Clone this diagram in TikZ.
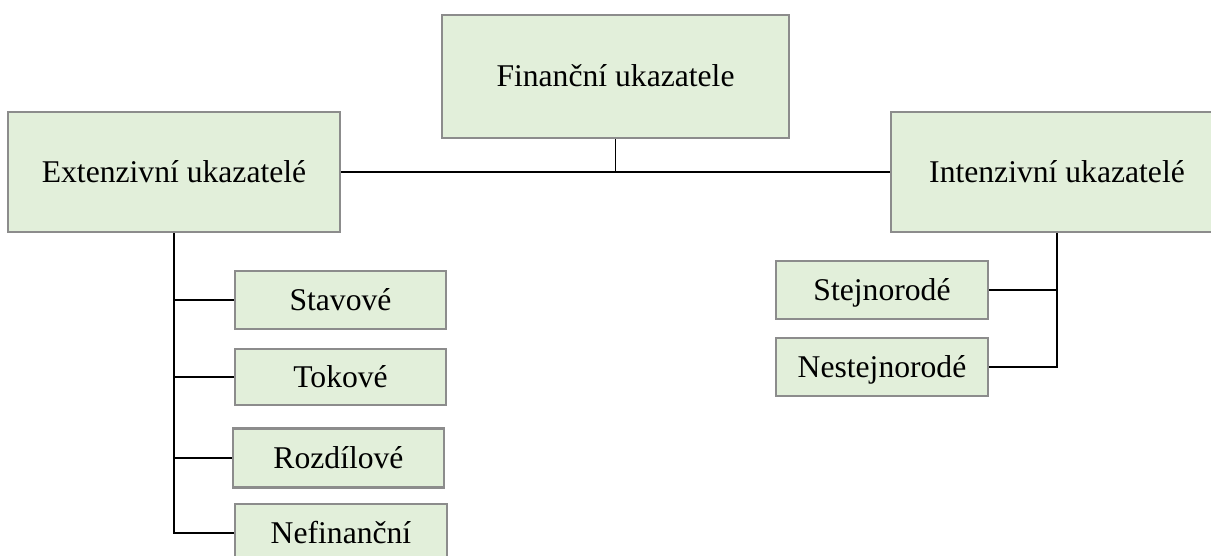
\documentclass[tikz,border=0pt]{standalone}
\usepackage{fontspec}
\setmainfont{Liberation Serif}
\usepackage{tikz}

\definecolor{boxfill}{HTML}{E2EFDA}
\definecolor{boxline}{HTML}{8C8C8C}

\begin{document}
\begin{tikzpicture}[
        box/.style={draw=boxline, line width=1.2pt, fill=boxfill,
            inner sep=0pt, text height=15.4pt, text depth=4pt,
            font=\fontsize{18}{22}\selectfont},
        link/.style={black, line width=0.9pt}]

        % Frame
        \clip (0,0) rectangle (24.22,11.12);

        % Top level
        \node[box, minimum width=6.94cm, minimum height=2.46cm] (fin) at (12.31,9.59) {Finanční ukazatele};
        \node[box, minimum width=6.64cm, minimum height=2.40cm] (ext) at (3.48,7.68) {Extenzivní ukazatelé};
        \node[box, minimum width=6.64cm, minimum height=2.40cm] (int) at (21.14,7.68) {Intenzivní ukazatelé};

        % Extensive
        \node[box, minimum width=4.22cm, minimum height=1.16cm] (sta) at (6.81,5.12) {Stavové};
        \node[box, minimum width=4.22cm, minimum height=1.12cm] (tok) at (6.81,3.58) {Tokové};
        \node[box, minimum width=4.22cm, minimum height=1.18cm] (roz) at (6.77,1.96) {Rozdílové};
        \node[box, minimum width=4.24cm, minimum height=1.16cm] (nef) at (6.82,0.46) {Nefinanční};

        % Intensive
        \node[box, minimum width=4.24cm, minimum height=1.16cm] (stj) at (17.64,5.32) {Stejnorodé};
        \node[box, minimum width=4.24cm, minimum height=1.16cm] (nes) at (17.64,3.78) {Nestejnorodé};

        % Connectors
        \draw[link] (ext.east) -- (int.west);
        \draw[link] (fin.south) -- (fin.south |- ext.east);
        \draw[link] (ext.south) |- (nef.west);
        \draw[link] (ext.south |- sta.west) -- (sta.west);
        \draw[link] (ext.south |- tok.west) -- (tok.west);
        \draw[link] (ext.south |- roz.west) -- (roz.west);
        \draw[link] (int.south) |- (nes.east);
        \draw[link] (int.south |- stj.east) -- (stj.east);

    \end{tikzpicture}
\end{document}
